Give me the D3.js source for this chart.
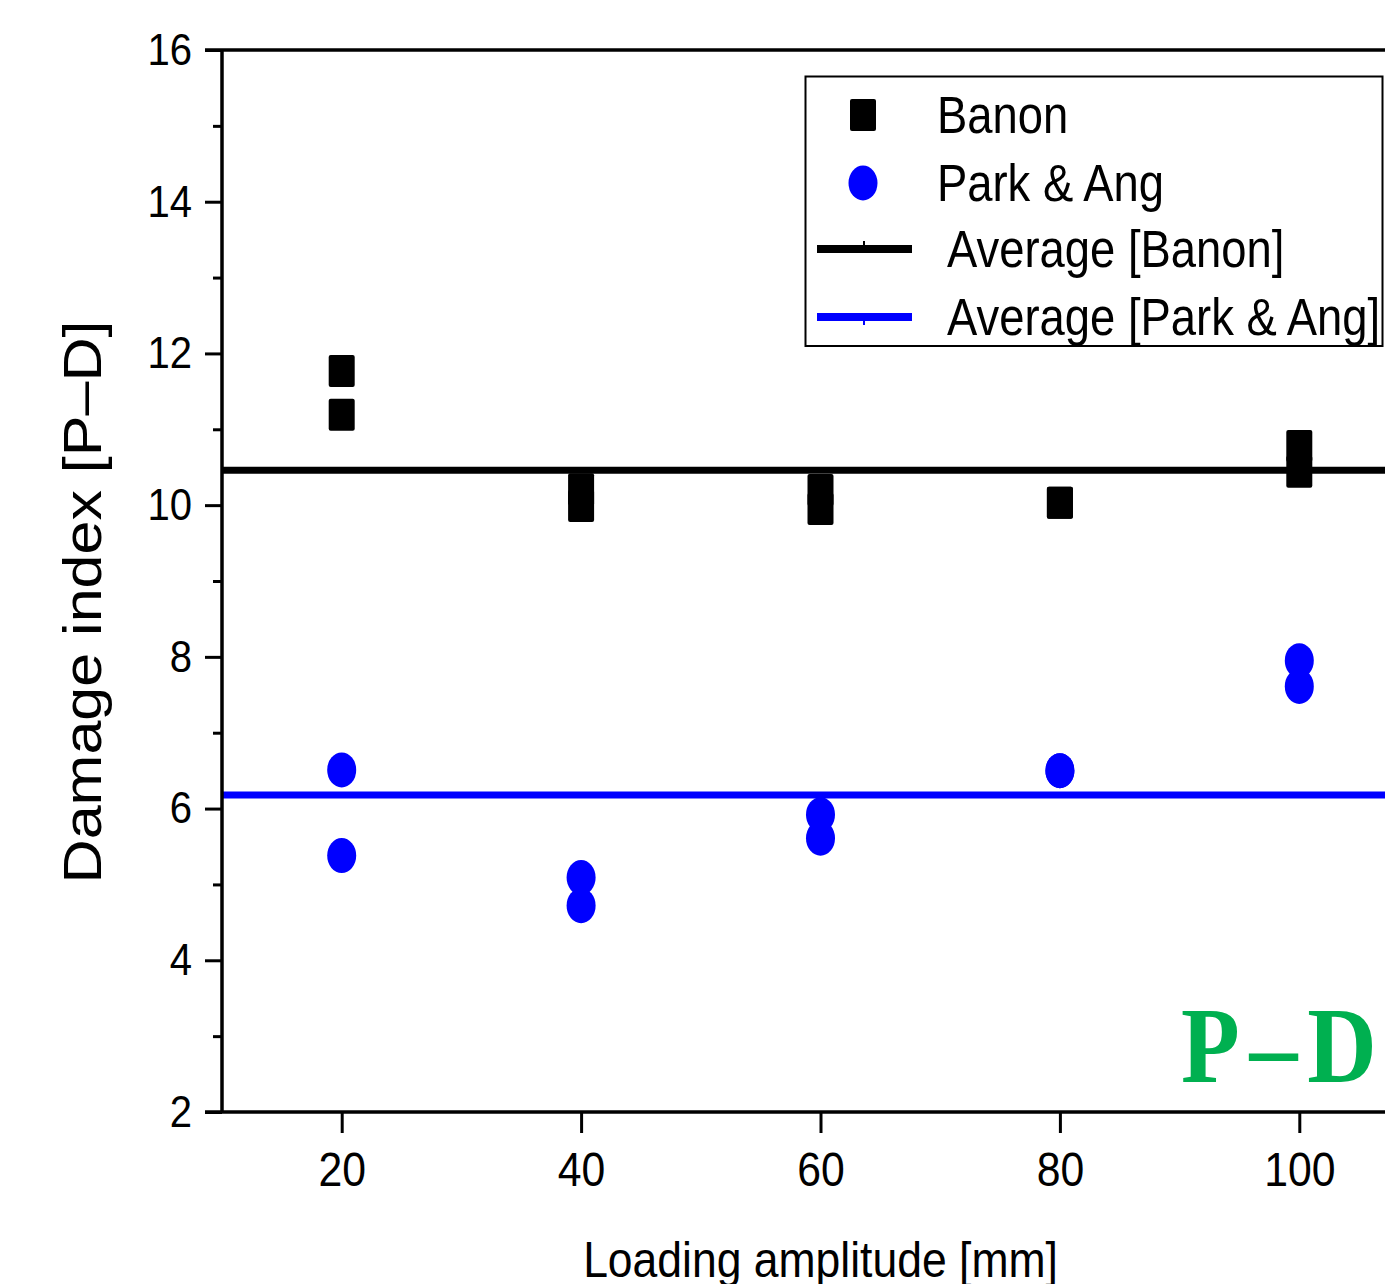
<!DOCTYPE html>
<html>
<head>
<meta charset="utf-8">
<script src="https://cdnjs.cloudflare.com/ajax/libs/d3/7.8.5/d3.min.js"></script>
<style>
  body { margin: 0; background: #fff; overflow: hidden; }
  svg { display: block; }
  .axis text { font-family: "Liberation Sans", Arial, sans-serif; fill: #000; }
</style>
</head>
<body>
<div id="body"></div>
<script>
// loading amplitude of each specimen (mm)
var amplitude = [20, 20, 40, 40, 60, 60, 80, 80, 100, 100];
// damage index values
var banon = [11.77, 11.19, 10.21, 9.99, 10.20, 9.95, 10.03, 10.03, 10.78, 10.44];
var parkAng = [6.51, 5.38, 5.09, 4.72, 5.92, 5.61, 6.50, 6.50, 7.95, 7.61];
var xTicks = [20, 40, 60, 80, 100];
var yTicks = [2, 4, 6, 8, 10, 12, 14, 16];
var yMinor = [3, 5, 7, 9, 11, 13, 15];
var legendLabels = ["Banon", "Park & Ang", " Average [Banon]", " Average [Park & Ang]"];

var W = 1385, H = 1284;
var margin = {top: 50, left: 222},
    plotRight = 1419, plotBottom = 1112;
var sx = 0.89; // the figure is a little squeezed sideways

var svg = d3.select("#body")
  .append("svg")
  .attr("width", W)
  .attr("height", H);

var x = d3.scaleLinear().domain([10, 110]).range([margin.left, plotRight]);
var y = d3.scaleLinear().domain([2, 16]).range([plotBottom, margin.top]);

var avgBanon = d3.mean(banon);
var avgPark = d3.mean(parkAng);

// average lines
svg.append("line")
  .attr("x1", x(10)).attr("x2", x(110))
  .attr("y1", y(avgBanon)).attr("y2", y(avgBanon))
  .attr("stroke", "#000").attr("stroke-width", 7);

svg.append("line")
  .attr("x1", x(10)).attr("x2", x(110))
  .attr("y1", y(avgPark)).attr("y2", y(avgPark))
  .attr("stroke", "#0000ff").attr("stroke-width", 7);

// Banon squares
svg.selectAll("rect.banon")
  .data(amplitude.map(function(a, i) { return [a, banon[i]]; }))
  .enter().append("rect")
  .attr("class", "banon")
  .attr("x", function(d) { return x(d[0]) - 13; })
  .attr("y", function(d) { return y(d[1]) - 16; })
  .attr("width", 26).attr("height", 32)
  .attr("rx", 2)
  .attr("fill", "#000");

// Park & Ang circles
svg.selectAll("ellipse.park")
  .data(amplitude.map(function(a, i) { return [a, parkAng[i]]; }))
  .enter().append("ellipse")
  .attr("class", "park")
  .attr("cx", function(d) { return x(d[0]); })
  .attr("cy", function(d) { return y(d[1]); })
  .attr("rx", 14.5).attr("ry", 17.5)
  .attr("fill", "#0000ff");

// frame
svg.append("line")
  .attr("x1", margin.left - 17).attr("x2", plotRight)
  .attr("y1", y(16)).attr("y2", y(16))
  .attr("stroke", "#000").attr("stroke-width", 3.5);
svg.append("line")
  .attr("x1", margin.left - 17).attr("x2", plotRight)
  .attr("y1", y(2)).attr("y2", y(2))
  .attr("stroke", "#000").attr("stroke-width", 3.5);
svg.append("line")
  .attr("x1", margin.left).attr("x2", margin.left)
  .attr("y1", y(16)).attr("y2", y(2))
  .attr("stroke", "#000").attr("stroke-width", 3.5);

// axes
var leftAxis = d3.axisLeft(y).tickValues(yTicks).tickSize(17).tickPadding(13)
  .tickFormat(d3.format("d"));
var gy = svg.append("g")
  .attr("class", "axis")
  .attr("transform", "translate(" + margin.left + ",0)")
  .call(leftAxis);
gy.select(".domain").remove();
gy.selectAll(".tick line").attr("stroke-width", 3);
gy.selectAll(".tick text")
  .attr("font-size", 45)
  .attr("x", -30 / sx)
  .attr("transform", "scale(" + sx + ",1)");

var minorAxis = d3.axisLeft(y).tickValues(yMinor).tickSize(9).tickFormat("");
var gm = svg.append("g")
  .attr("class", "axis")
  .attr("transform", "translate(" + margin.left + ",0)")
  .call(minorAxis);
gm.select(".domain").remove();
gm.selectAll(".tick line").attr("stroke-width", 3);

var bottomAxis = d3.axisBottom(x).tickValues(xTicks).tickSize(21).tickPadding(19);
var gx = svg.append("g")
  .attr("class", "axis")
  .attr("transform", "translate(0," + plotBottom + ")")
  .call(bottomAxis);
gx.select(".domain").remove();
gx.selectAll(".tick line").attr("stroke-width", 3);
gx.selectAll(".tick text")
  .attr("font-size", 48)
  .attr("transform", "scale(" + sx + ",1)");

// axis titles
svg.append("text")
  .attr("transform", "translate(" + ((margin.left + plotRight) / 2) + ",1277) scale(" + sx + ",1)")
  .attr("text-anchor", "middle")
  .attr("font-family", "Liberation Sans, Arial, sans-serif")
  .attr("font-size", 50)
  .text("Loading amplitude [mm]");

svg.append("text")
  .attr("transform", "translate(101,602) scale(" + sx + ",1) rotate(-90)")
  .attr("text-anchor", "middle")
  .attr("font-family", "Liberation Sans, Arial, sans-serif")
  .attr("font-size", 61)
  .text("Damage index [P\u2013D]");

// P-D tag
svg.append("text")
  .attr("transform", "translate(1181,1082) scale(" + sx + ",1)")
  .attr("font-family", "Liberation Serif, Times New Roman, serif")
  .attr("font-weight", "bold")
  .attr("font-size", 108)
  .attr("letter-spacing", 11)
  .attr("fill", "#00b050")
  .text("P\u2013D");

// legend
var legend = svg.append("g");
legend.append("rect")
  .attr("x", 805.5).attr("y", 76.5)
  .attr("width", 577).attr("height", 269.5)
  .attr("fill", "#fff").attr("stroke", "#000").attr("stroke-width", 2);

var rowY = [115, 183, 249, 317];
legend.append("rect")
  .attr("x", 850).attr("y", rowY[0] - 16)
  .attr("width", 26).attr("height", 32).attr("rx", 2)
  .attr("fill", "#000");
legend.append("ellipse")
  .attr("cx", 863).attr("cy", rowY[1])
  .attr("rx", 14.5).attr("ry", 17.5)
  .attr("fill", "#0000ff");
legend.append("line")
  .attr("x1", 817).attr("x2", 912)
  .attr("y1", rowY[2]).attr("y2", rowY[2])
  .attr("stroke", "#000").attr("stroke-width", 8);
legend.append("rect")
  .attr("x", 863).attr("y", rowY[2] - 8).attr("width", 2).attr("height", 5)
  .attr("fill", "#000");
legend.append("line")
  .attr("x1", 817).attr("x2", 912)
  .attr("y1", rowY[3]).attr("y2", rowY[3])
  .attr("stroke", "#0000ff").attr("stroke-width", 8);
legend.append("rect")
  .attr("x", 863).attr("y", rowY[3] + 3).attr("width", 2).attr("height", 5)
  .attr("fill", "#0000ff");

var textX = [937, 937, 937, 937];
legend.selectAll("text.lg")
  .data(legendLabels)
  .enter().append("text")
  .attr("class", "lg")
  .attr("transform", function(d, i) {
    return "translate(" + textX[i] + "," + (rowY[i] + 18) + ") scale(" + sx + ",1)";
  })
  .attr("font-family", "Liberation Sans, Arial, sans-serif")
  .attr("font-size", 51)
  .attr("xml:space", "preserve")
  .style("white-space", "pre")
  .text(function(d) { return d; });
</script>
</body>
</html>
